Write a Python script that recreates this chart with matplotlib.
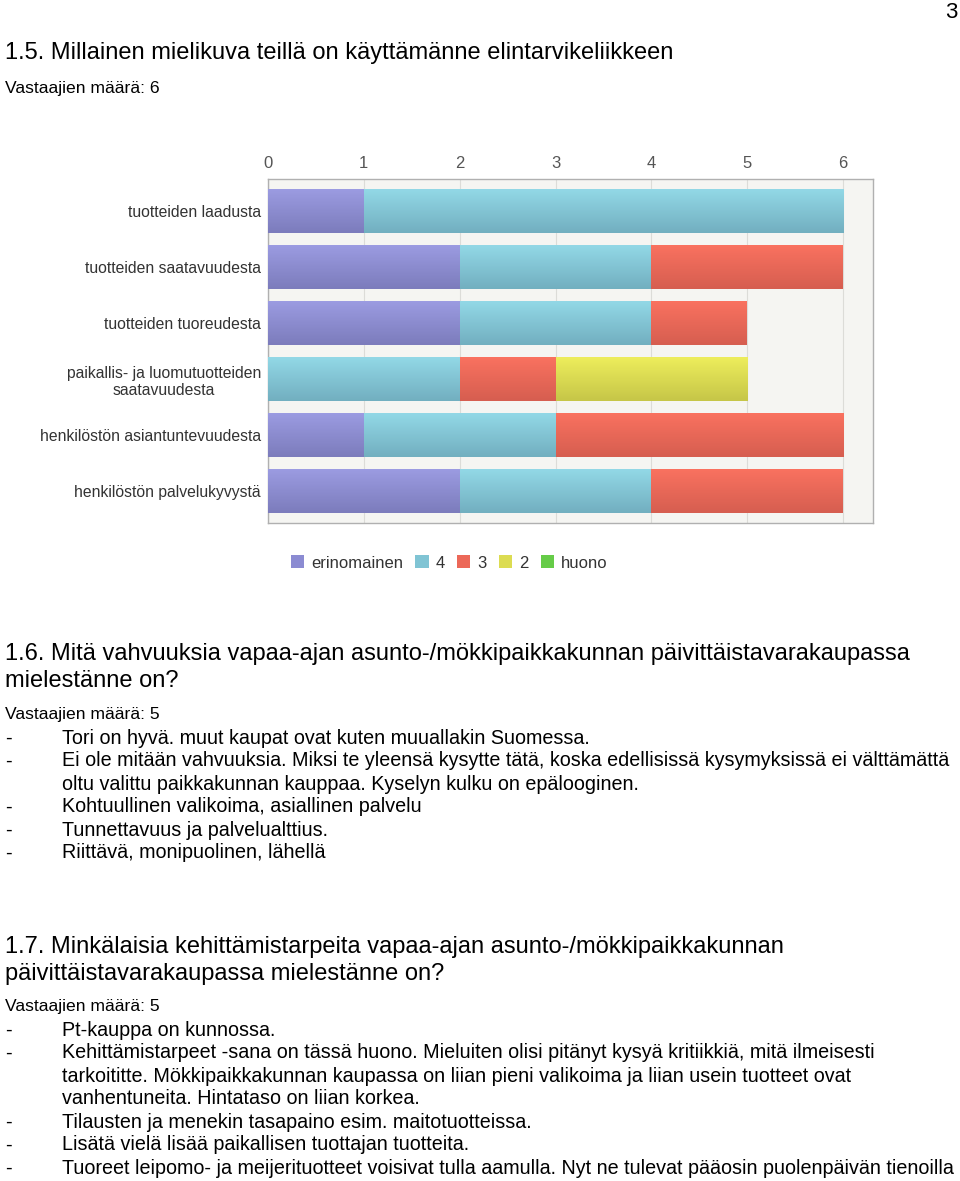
import numpy as np
import matplotlib.pyplot as plt
from matplotlib.patches import Patch
from matplotlib.colors import LinearSegmentedColormap

categories = [
    "tuotteiden laadusta",
    "tuotteiden saatavuudesta",
    "tuotteiden tuoreudesta",
    "paikallis- ja luomutuotteiden\nsaatavuudesta",
    "henkilöstön asiantuntevuudesta",
    "henkilöstön palvelukyvystä",
]
series_names = ["erinomainen", "4", "3", "2", "huono"]
erinomainen = [1, 2, 2, 0, 1, 2]
four = [5, 2, 2, 2, 2, 2]
three = [0, 2, 1, 1, 3, 2]
two = [0, 0, 0, 2, 0, 0]
huono = [0, 0, 0, 0, 0, 0]
ticks = [0, 1, 2, 3, 4, 5, 6]

# (top colour, bottom colour) for the gradient of each series
grads = [("#9c9ce2", "#7c7cbc"), ("#93d9e7", "#72afc0"), ("#fa7260", "#d65e50"),
         ("#eeee5c", "#c6c648"), ("#77dd55", "#55b040")]
legend_cols = ["#8b8bd2", "#80c4d4", "#ec6858", "#dcdc52", "#66cc48"]

q15_title = "1.5. Millainen mielikuva teillä on käyttämänne elintarvikeliikkeen"
q16_title = ["1.6. Mitä vahvuuksia vapaa-ajan asunto-/mökkipaikkakunnan päivittäistavarakaupassa",
             "mielestänne on?"]
q16_lines = [
    ("-", "Tori on hyvä. muut kaupat ovat kuten muuallakin Suomessa."),
    ("-", "Ei ole mitään vahvuuksia. Miksi te yleensä kysytte tätä, koska edellisissä kysymyksissä ei välttämättä"),
    ("", "oltu valittu paikkakunnan kauppaa. Kyselyn kulku on epälooginen."),
    ("-", "Kohtuullinen valikoima, asiallinen palvelu"),
    ("-", "Tunnettavuus ja palvelualttius."),
    ("-", "Riittävä, monipuolinen, lähellä"),
]
q17_title = ["1.7. Minkälaisia kehittämistarpeita vapaa-ajan asunto-/mökkipaikkakunnan",
             "päivittäistavarakaupassa mielestänne on?"]
q17_lines = [
    ("-", "Pt-kauppa on kunnossa."),
    ("-", "Kehittämistarpeet -sana on tässä huono. Mieluiten olisi pitänyt kysyä kritiikkiä, mitä ilmeisesti"),
    ("", "tarkoititte. Mökkipaikkakunnan kaupassa on liian pieni valikoima ja liian usein tuotteet ovat"),
    ("", "vanhentuneita. Hintataso on liian korkea."),
    ("-", "Tilausten ja menekin tasapaino esim. maitotuotteissa."),
    ("-", "Lisätä vielä lisää paikallisen tuottajan tuotteita."),
    ("-", "Tuoreet leipomo- ja meijerituotteet voisivat tulla aamulla. Nyt ne tulevat pääosin puolenpäivän tienoilla"),
]

W, H = 960, 1181
fig = plt.figure(figsize=(W / 100, H / 100), dpi=100)
doc_font = ["Liberation Sans", "DejaVu Sans"]
chart_font = ["Liberation Sans", "DejaVu Sans"]
TITLE_FS = 17
COUNT_FS = 12.6
BODY_FS = 14.2


def fy(py):
    return 1 - py / H


# ---- chart ----
ax = fig.add_axes([268 / W, fy(523), (873 - 268) / W, (523 - 179) / H])
ax.set_facecolor("#f5f5f2")
y = np.arange(len(categories))
left = np.zeros(len(categories))
for vals, (c_top, c_bot) in zip([erinomainen, four, three, two, huono], grads):
    bars = ax.barh(y, vals, left=left, height=0.8, color=c_bot, edgecolor="none", zorder=2)
    cmap = LinearSegmentedColormap.from_list("g", [c_top, c_bot])
    for b in bars:
        if b.get_width() <= 0:
            continue
        x0, y0 = b.get_x(), b.get_y()
        im = ax.imshow(np.linspace(0, 1, 64).reshape(-1, 1), cmap=cmap, aspect="auto",
                       extent=[x0, x0 + b.get_width(), y0 + b.get_height(), y0],
                       zorder=3, interpolation="bicubic")
        im.set_clip_path(b)
    left += np.array(vals)

ax.set_xlim(0, 6.313)
ax.set_ylim(len(categories) - 0.43, -0.57)
ax.set_xticks(ticks)
ax.xaxis.tick_top()
ax.tick_params(axis="x", length=0, pad=6, labelsize=12, labelcolor="#555555")
ax.tick_params(axis="y", length=0, pad=5, labelsize=11.3, labelcolor="#333333")
ax.set_yticks(y)
ax.set_yticklabels(categories, ha="right", multialignment="center")
for lab in ax.get_xticklabels() + ax.get_yticklabels():
    lab.set_family(chart_font)
ax.grid(axis="x", color="#dcdcd8", linewidth=0.8, zorder=1)
ax.set_axisbelow(True)
for s in ax.spines.values():
    s.set_color("#b0b0b0")
    s.set_linewidth(1.0)

handles = [Patch(facecolor=c, edgecolor="none") for c in legend_cols]
fig.legend(handles, series_names, loc="center", bbox_to_anchor=(449 / W, fy(563)), ncol=5,
           frameon=False, handlelength=0.8, handleheight=0.8, handletextpad=0.4,
           columnspacing=0.75, prop={"family": chart_font, "size": 12}, labelcolor="#333333")

# ---- document text ----
fig.text(957 / W, fy(12), "3", ha="right", va="center", fontsize=16, family=doc_font)
fig.text(5 / W, fy(53), q15_title, ha="left", va="center", fontsize=TITLE_FS, family=doc_font)
fig.text(5 / W, fy(88), "Vastaajien määrä: 6", ha="left", va="center", fontsize=COUNT_FS,
         family=doc_font)


def block(title_lines, title_y, lines, first_y, count_y):
    for i, t in enumerate(title_lines):
        fig.text(5 / W, fy(title_y + 27 * i), t, ha="left", va="center", fontsize=TITLE_FS,
                 family=doc_font)
    fig.text(5 / W, fy(count_y), "Vastaajien määrä: 5", ha="left", va="center",
             fontsize=COUNT_FS, family=doc_font)
    for i, (dash, t) in enumerate(lines):
        yy = fy(first_y + 23.0 * i)
        if dash:
            fig.text(5 / W, yy, dash, ha="left", va="center", fontsize=BODY_FS, family=doc_font)
        fig.text(62 / W, yy, t, ha="left", va="center", fontsize=BODY_FS, family=doc_font)


block(q16_title, 654, q16_lines, 738, 715)
block(q17_title, 947, q17_lines, 1030, 1007)

fig.savefig("out.png", dpi=100, facecolor="white")
